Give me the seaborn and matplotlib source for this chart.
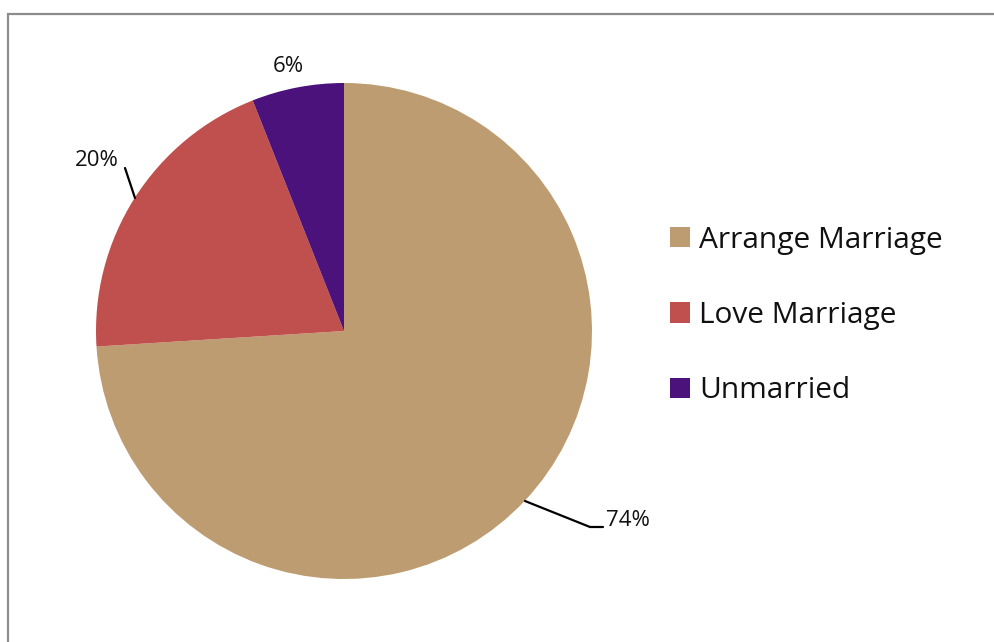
import matplotlib
matplotlib.use("Agg")
import matplotlib.pyplot as plt
import seaborn as sns
from matplotlib.patches import Patch, Rectangle

categories = ["Arrange Marriage", "Love Marriage", "Unmarried"]
shares = [74, 20, 6]
pct_labels = ["74%", "20%", "6%"]
colors = ["#BE9C71", "#C0504D", "#4A127A"]

sns.set_theme(style="white")
plt.rcParams["font.family"] = ["Open Sans", "DejaVu Sans"]

W, H = 995, 642
fig = plt.figure(figsize=(W / 100, H / 100), dpi=100)

# outer gray border (chart area frame)
fig.patches.append(Rectangle((8 / W, -0.1), 1.2, (H - 14) / H + 0.1,
                             transform=fig.transFigure, fill=False,
                             edgecolor="#8C8C8C", linewidth=1.6, zorder=0))

# pie axes: centre (344,331) px, radius 248 px
cx, cy, R, half = 344, 331, 248, 300
ax = fig.add_axes([(cx - half) / W, (H - cy - half) / H, 2 * half / W, 2 * half / H])
wedges, _ = ax.pie(shares, colors=colors, startangle=90, counterclock=False,
                   radius=1, wedgeprops=dict(linewidth=0))
lim = half / R
ax.set_xlim(-lim, lim)
ax.set_ylim(-lim, lim)
ax.set_aspect("equal")
ax.axis("off")

def px(x, y):
    return ((x - cx) / R, (cy - y) / R)

# 74% label with leader
p = [px(525, 501), px(590, 527), px(603, 527)]
ax.plot([q[0] for q in p], [q[1] for q in p], color="black", lw=1.6, clip_on=False)
tx, ty = px(606, 520)
ax.text(tx, ty, pct_labels[0], ha="left", va="center", fontsize=16, color="#111111")

# 20% label with leader
p = [px(125, 168), px(135, 198)]
ax.plot([q[0] for q in p], [q[1] for q in p], color="black", lw=1.6, clip_on=False)
tx, ty = px(97, 161)
ax.text(tx, ty, pct_labels[1], ha="center", va="center", fontsize=16, color="#111111")

# 6% label
tx, ty = px(288, 67)
ax.text(tx, ty, pct_labels[2], ha="center", va="center", fontsize=16, color="#111111")

handles = [Patch(facecolor=c, edgecolor="none") for c in colors]
leg = fig.legend(handles, categories, loc="center left",
                 bbox_to_anchor=(670 / W, (H - 315.5) / H), frameon=False,
                 fontsize=21.5, handlelength=0.67, handleheight=0.67,
                 handletextpad=0.3, labelspacing=1.55, borderpad=0,
                 borderaxespad=0)
for t in leg.get_texts():
    t.set_color("#111111")

fig.savefig("out.png", dpi=100, facecolor="white")
